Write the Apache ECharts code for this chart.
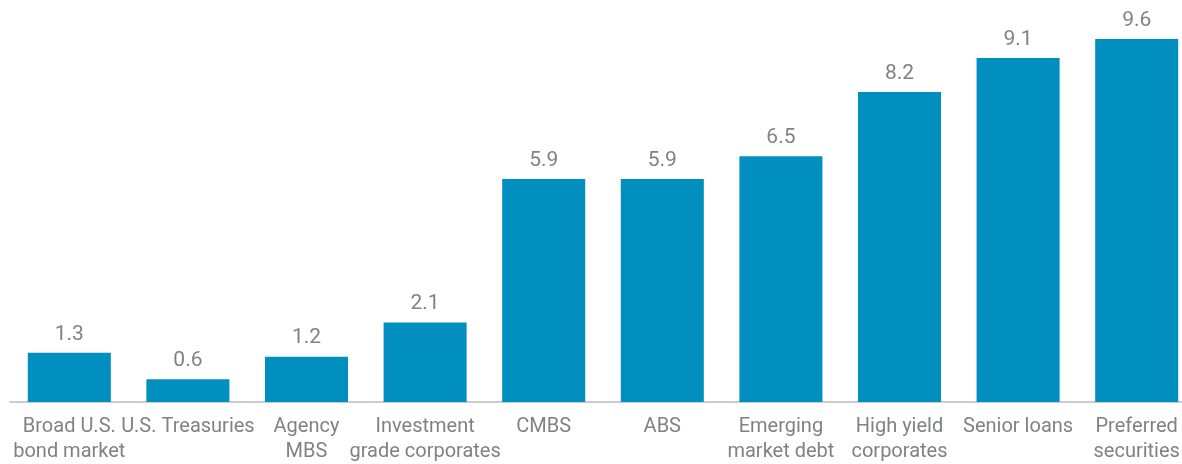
<!DOCTYPE html>
<html><head><meta charset="utf-8">
<script src="https://cdn.jsdelivr.net/npm/echarts@6/dist/echarts.min.js"></script>
<style>html,body{margin:0;padding:0;background:#fff;overflow:hidden}#c{width:1196px;height:464px}</style>
</head><body><div id="c"></div>
<script>
var categories = ['Broad U.S.\nbond market','U.S. Treasuries','Agency\nMBS','Investment\ngrade corporates','CMBS','ABS','Emerging\nmarket debt','High yield\ncorporates','Senior loans','Preferred\nsecurities'];
var values = [1.3, 0.6, 1.2, 2.1, 5.9, 5.9, 6.5, 8.2, 9.1, 9.6];
var chart = echarts.init(document.getElementById('c'));
chart.setOption({
  animation: false,
  grid: {left: 10, right: 0, top: 24, bottom: 62, containLabel: false},
  xAxis: {
    type: 'category', data: categories,
    axisLine: {lineStyle: {color: '#cccccc', width: 2}},
    axisTick: {show: false},
    axisLabel: {color: '#808285', fontSize: 20, fontFamily: 'Roboto', lineHeight: 25, margin: 12, interval: 0}
  },
  yAxis: {type: 'value', min: 0, max: 10, show: false, splitLine: {show: false}},
  series: [{
    type: 'bar', data: values, barCategoryGap: '30%',
    itemStyle: {color: '#008fbf'},
    label: {show: true, position: 'top', distance: 8, color: '#808285', fontSize: 21, fontFamily: 'Roboto', formatter: function(p){return p.value.toFixed(1);}}
  }]
});
</script></body></html>
